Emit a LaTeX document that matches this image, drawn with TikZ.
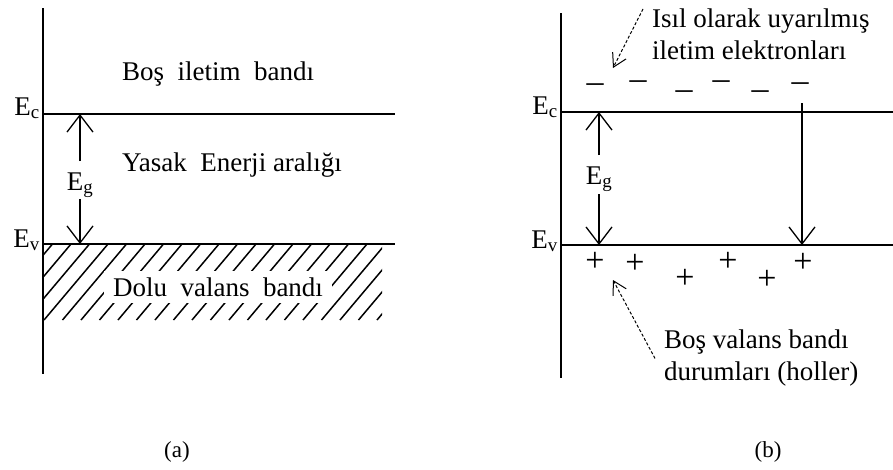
\documentclass[tikz,border=0pt]{standalone}
\usepackage{fontspec}
\setmainfont{Liberation Serif}
\usetikzlibrary{arrows.meta,positioning}
\tikzset{
  axis/.style={line width=1.6pt,draw=black},
  level/.style={line width=1.8pt,draw=black},
  hatchline/.style={line width=1.5pt,draw=black},
  gaparrow/.style={-{Straight Barb[length=17pt,width=26pt,line width=1.3pt]},line width=1.3pt},
  hintarrow/.style={-{Straight Barb[length=13pt,width=15pt,line width=1pt]},line width=1pt,dash pattern=on 3pt off 2pt},
  lbl/.style={font=\fontsize{27}{32}\selectfont,inner sep=0pt},
  sign/.style={font=\fontsize{34}{38}\selectfont,inner sep=0pt},
  caption/.style={font=\fontsize{23}{26}\selectfont,inner sep=0pt}
}

\begin{document}
\begin{tikzpicture}[x=1pt,y=-1pt]
  \useasboundingbox (0,0) rectangle (893,469);

  % (a) bant yapisi
  \draw[axis] (43,8) -- (43,374);
  \coordinate (ecA) at (44,114);
  \coordinate (evA) at (44,244);
  \draw[level] (ecA) -- ++(351,0);

  \begin{scope}
    \clip (44,244) rectangle (382,320);
    \foreach \k in {0,...,22}
      \draw[hatchline] ({-30+18.5*\k},320) -- ++(64,-76);
  \end{scope}
  \draw[level] (evA) -- ++(351,0);

  \node[lbl,anchor=base east] (ecLblA) at (40,115) {E\textsubscript{c}};
  \node[lbl,anchor=base east] (evLblA) at (40,247) {E\textsubscript{v}};

  \node[lbl,anchor=base] (emptyA) at (218,80) {Boş~~iletim~~bandı};
  \node[lbl,anchor=base] (gapA) at (232,171) {Yasak~~Enerji aralığı};
  \node[lbl,fill=white,inner xsep=9pt,minimum height=32pt] (fullA) at (218,287) {Dolu~~valans~~bandı};

  \coordinate (egTopA) at (80,114);
  \coordinate (egBotA) at (80,244);
  \node[lbl,anchor=base] (egA) at (80,190) {E\textsubscript{g}};
  \draw[gaparrow] ([yshift=11pt]egA.north) -- (egTopA);
  \draw[gaparrow] ([yshift=-1pt]egA.south) -- (egBotA);

  \node[caption] (capA) at (177,452) {(a)};

  % (b) isil uyarma
  \draw[axis] (561,13) -- (561,378);
  \coordinate (ecB) at (562,112);
  \coordinate (evB) at (562,245);
  \draw[level] (ecB) -- (893,112);
  \draw[level] (evB) -- (893,245);

  \node[lbl,anchor=base east] (ecLblB) at (558,114) {E\textsubscript{c}};
  \node[lbl,anchor=base east] (evLblB) at (558,248) {E\textsubscript{v}};

  \coordinate (egTopB) at (599,112);
  \coordinate (egBotB) at (599,245);
  \node[lbl,anchor=base] (egB) at (599,184) {E\textsubscript{g}};
  \draw[gaparrow] ([yshift=11pt]egB.north) -- (egTopB);
  \draw[gaparrow] ([yshift=-2pt]egB.south) -- (egBotB);

  \coordinate (dropTop) at (802,103);
  \coordinate (dropBot) at (802,245);
  \draw[gaparrow] (dropTop) -- (dropBot);

  \foreach \px/\py [count=\n] in {595/88,638/85,684/95,721/85,760/95,800/87}
    \node[sign] (elec\n) at (\px,\py) {–};
  \foreach \px/\py [count=\n] in {595/262,635/264,685/279,728/262,767/280,803/263}
    \node[sign] (hole\n) at (\px,\py) {+};

  \node[lbl,anchor=north west,align=left,text depth=0pt] (elecTxt) at (652,9) {Isıl olarak uyarılmış\\iletim elektronları};
  \node[lbl,anchor=north west,align=left] (holeTxt) at (664,330) {Boş valans bandı\\durumları (holler)};

  \coordinate (elecTip) at (613,68);
  \coordinate (holeTip) at (613,280);
  \draw[hintarrow] ([xshift=-9pt]elecTxt.north west) -- (elecTip);
  \draw[hintarrow] ([xshift=-9pt]holeTxt.west) -- (holeTip);

  \node[caption] (capB) at (768,452) {(b)};
\end{tikzpicture}
\end{document}
